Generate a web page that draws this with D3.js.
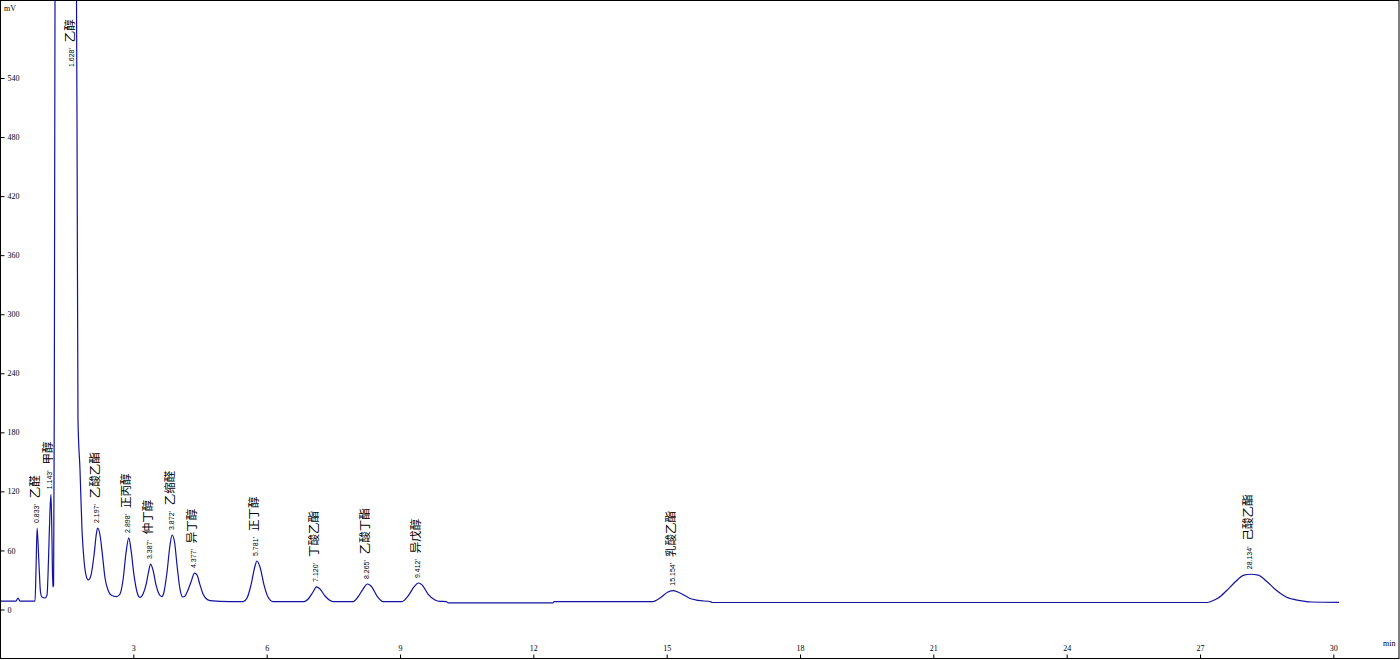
<!DOCTYPE html>
<html>
<head>
<meta charset="utf-8">
<script src="https://cdn.jsdelivr.net/npm/d3@7/dist/d3.min.js"></script>
<style>
  html, body { margin: 0; padding: 0; background: #fff; }
  svg { display: block; }
</style>
</head>
<body>
<svg id="chart" width="1400" height="660"></svg>
<script>
// ---- data ----
const times = [0, 0.36, 0.405, 0.45, 0.788, 0.81, 0.835, 0.878, 0.911, 0.945, 1.013, 1.058, 1.091, 1.125, 1.147, 1.17, 1.188, 1.206, 1.222, 1.2376, 1.283, 1.628, 1.699, 1.7214, 1.733, 1.755, 1.8, 1.845, 1.89, 1.935, 1.987, 2.048, 2.115, 2.171, 2.197, 2.25, 2.306, 2.363, 2.43, 2.498, 2.626, 2.7, 2.768, 2.835, 2.898, 2.948, 3.015, 3.083, 3.15, 3.218, 3.285, 3.342, 3.387, 3.443, 3.51, 3.578, 3.638, 3.69, 3.758, 3.825, 3.872, 3.927, 3.983, 4.05, 4.111, 4.163, 4.23, 4.298, 4.377, 4.433, 4.5, 4.568, 4.635, 4.725, 5.175, 5.468, 5.558, 5.648, 5.738, 5.781, 5.85, 5.94, 6.03, 6.143, 6.84, 6.953, 7.043, 7.12, 7.2, 7.313, 7.493, 7.943, 8.055, 8.168, 8.265, 8.348, 8.483, 8.618, 9.046, 9.18, 9.315, 9.412, 9.496, 9.63, 9.788, 9.9, 10.036, 10.081, 12.444, 12.466, 14.67, 14.85, 15.03, 15.154, 15.3, 15.526, 15.706, 16.0, 16.02, 27.16, 27.27, 27.41, 27.59, 27.79, 27.99, 28.134, 28.31, 28.49, 28.71, 28.94, 29.25, 29.5, 30.13];
const signal = [8.6, 8.6, 11.7, 8.6, 8.6, 40, 82.8, 45, 17.8, 12.7, 11.7, 14.7, 50, 101, 117, 70, 22.9, 25, 212, 619, 925, 2500, 822, 619, 492, 192, 142, 81, 50, 35, 30, 35, 55, 77.7, 82.8, 75.7, 55, 32, 19.8, 14.7, 13, 15.7, 30, 57.4, 72.7, 60.5, 35, 17.8, 12.2, 15.7, 25, 38, 46.2, 40.1, 25, 15.7, 13, 17.8, 38, 65.5, 75.7, 68.6, 45, 20.8, 12.7, 13.7, 19.8, 27.9, 37, 35, 25, 15.7, 11.2, 9.1, 8.1, 8.1, 11.7, 25, 44.2, 49.3, 43.2, 25, 12.7, 8.1, 8.1, 11.7, 17.8, 22.9, 20.8, 13.7, 8.1, 8.1, 12.7, 20.8, 25.9, 23.9, 13.7, 8.1, 8.1, 13.7, 22.9, 26.9, 25, 15.7, 9.7, 8.3, 8.1, 6.8, 6.8, 7.9, 7.9, 11.7, 17.8, 19.1, 16.8, 11.2, 9.3, 7.8, 7.1, 7.1, 8.6, 11.7, 18.8, 27.9, 35, 35.8, 35, 29, 19.8, 12.7, 9.1, 7.6, 7.3];

const peakTimes   = [0.833, 1.143, 1.628, 2.197, 2.898, 3.387, 3.872, 4.377, 5.781, 7.120, 8.265, 9.412, 15.154, 28.134];
const peakHeights = [82.8, 117, 2500, 82.8, 72.7, 46.2, 75.7, 37, 49.3, 22.9, 25.9, 26.9, 19.1, 35.8];
const peakTimeLabels = ["0.833'", "1.143'", "1.628'", "2.197'", "2.898'", "3.387'", "3.872'", "4.377'", "5.781'", "7.120'", "8.265'", "9.412'", "15.154'", "28.134'"];
const peakNames = ["乙醛", "甲醇", "乙醇", "乙酸乙酯", "正丙醇", "仲丁醇", "乙缩醛", "异丁醇", "正丁醇", "丁酸乙酯", "乙酸丁酯", "异戊醇", "乳酸乙酯", "己酸乙酯"];

const yTicks = [0, 60, 120, 180, 240, 300, 360, 420, 480, 540];
const xTicks = [3, 6, 9, 12, 15, 18, 21, 24, 27, 30];
const yUnit = "mV";
const xUnit = "min";

// ---- layout ----
const W = 1400, H = 660;
const svg = d3.select("#chart");

const x = d3.scaleLinear().domain([0, 31.5]).range([0, 1400]);
const y = d3.scaleLinear().domain([0, 540]).range([609.5, 78]);

svg.append("rect").attr("width", W).attr("height", H).attr("fill", "#fff");

svg.append("defs").append("clipPath").attr("id", "clip")
  .append("rect").attr("x", 0).attr("y", 1).attr("width", 1399).attr("height", 657);

// trace
const pts = times.map((t, i) => [t, signal[i]]);
const line = d3.line().x(d => x(d[0])).y(d => y(d[1])).curve(d3.curveMonotoneX);
svg.append("path")
  .attr("clip-path", "url(#clip)")
  .attr("d", line(pts))
  .attr("fill", "none")
  .attr("stroke", "#12129e")
  .attr("stroke-width", 1.2);

// frame
svg.append("rect")
  .attr("x", 0.5).attr("y", 0.5).attr("width", 1398.5).attr("height", 658)
  .attr("fill", "none").attr("stroke", "#000").attr("stroke-width", 1);

// y axis
const yAxis = d3.axisRight(y).tickValues(yTicks).tickSize(4).tickPadding(3).tickFormat(d3.format("d"));
const gy = svg.append("g").attr("transform", "translate(0.5,0)").call(yAxis);
gy.select(".domain").remove();
gy.selectAll("text").attr("font-family", "Liberation Serif, serif").attr("font-size", 8).attr("fill", "#000");

// x axis
const xAxis = d3.axisTop(x).tickValues(xTicks).tickSize(4).tickPadding(4).tickFormat(d3.format("d"));
const gx = svg.append("g").attr("transform", "translate(0,658.5)").call(xAxis);
gx.select(".domain").remove();
gx.selectAll("text").attr("font-family", "Liberation Serif, serif").attr("font-size", 8).attr("fill", "#000");

// units
svg.append("text").attr("x", 4).attr("y", 11).text(yUnit)
  .attr("font-family", "Liberation Serif, serif").attr("font-size", 8).attr("fill", "#000");
svg.append("text").attr("x", 1383).attr("y", 646).text(xUnit)
  .attr("font-family", "Liberation Serif, serif").attr("font-size", 8).attr("fill", "#000");

// peak labels (rotated)
const labels = svg.append("g");
peakTimes.forEach((t, i) => {
  const px = x(t) + 1.5;
  const py = Math.max(y(peakHeights[i]), 72) - 5;
  const txt = labels.append("text")
    .attr("transform", `translate(${px},${py}) rotate(-90)`)
    .attr("fill", "#000");
  txt.append("tspan")
    .attr("font-family", "Liberation Sans, Arial, sans-serif")
    .attr("font-size", 7)
    .text(peakTimeLabels[i]);
  txt.append("tspan")
    .attr("dx", 6)
    .attr("font-family", "Noto Sans CJK SC, sans-serif")
    .attr("font-size", 11.5)
    .text(peakNames[i]);
});
</script>
</body>
</html>
